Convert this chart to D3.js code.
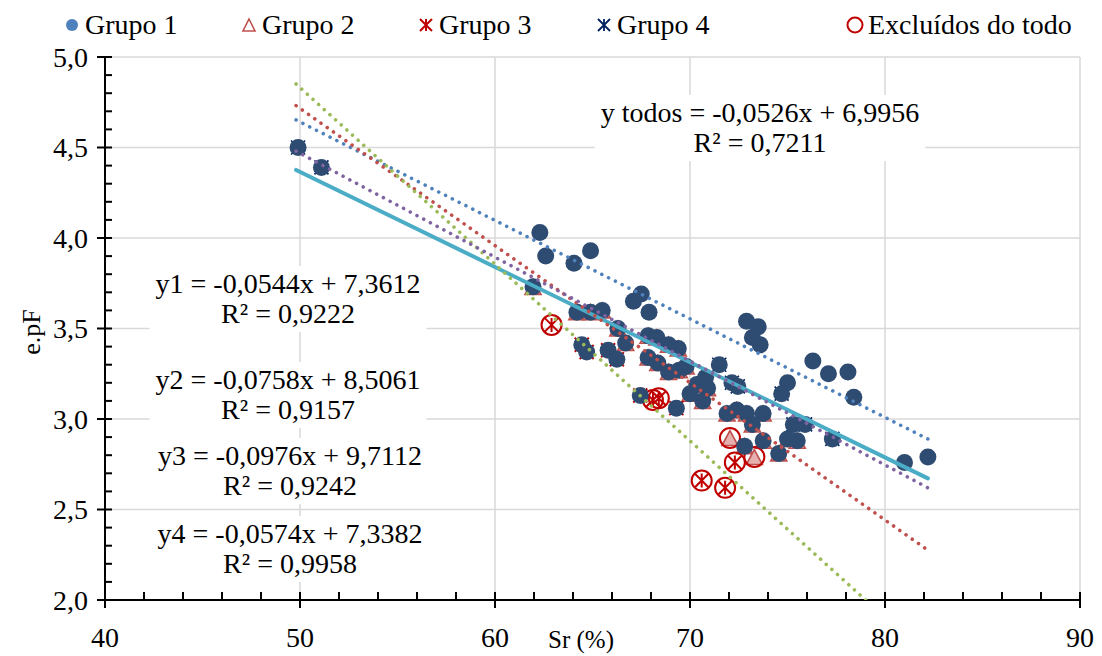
<!DOCTYPE html>
<html>
<head>
<meta charset="utf-8">
<script src="https://cdn.jsdelivr.net/npm/d3@7"></script>
<style>
  body { margin: 0; background: #fff; }
  text { font-family: "Liberation Serif", "Times New Roman", serif; fill: #000; }
</style>
</head>
<body>
<div class="chart-container"></div>
<script>
// Points: [Sr (%), e.pF]
const grupo1 = [[62.3,4.03],[62.6,3.90],[64.05,3.86],[64.9,3.93],[67.1,3.65],[67.5,3.69],[67.9,3.59],
  [72.9,3.54],[73.5,3.51],[73.2,3.45],[73.6,3.41],[75.0,3.20],[76.3,3.32],[77.1,3.25],[78.1,3.26],
  [78.4,3.12],[81.0,2.76],[82.2,2.79]];
const grupo2 = [[61.95,3.73],[64.2,3.59],[64.9,3.59],[65.5,3.60],[66.3,3.50],[66.7,3.42],[67.85,3.46],
  [68.3,3.45],[68.9,3.41],[69.4,3.39],[67.85,3.34],[68.35,3.31],[68.9,3.26],[69.45,3.27],[69.8,3.29],
  [70.35,3.19],[70.8,3.23],[70.9,3.17],[70.0,3.14],[70.65,3.10],[71.9,3.03],[72.4,3.05],[72.9,3.03],
  [73.75,3.03],[73.2,2.97],[72.8,2.85],[73.75,2.88],[75.0,2.89],[75.5,2.88],[74.55,2.81]];
const grupo3 = [[64.45,3.41],[64.7,3.37],[65.8,3.38],[66.25,3.33],[67.45,3.13],[69.3,3.06]];
const grupo4 = [[49.9,4.50],[51.1,4.39],[71.5,3.30],[72.15,3.20],[72.45,3.18],[74.7,3.14],
  [75.3,2.97],[75.9,2.97],[77.3,2.89]];
// excluded from "todos" fit
const excluidos2 = [[72.05,2.895],[73.3,2.79]];
const excluidos3 = [[62.9,3.52],[68.1,3.105],[68.4,3.115],[70.6,2.66],[71.8,2.62],[72.3,2.76]];

// trend lines
const trendNames = ['y todos', 'y1', 'y2', 'y3', 'y4'];
const trendSlopes = [-0.0526, -0.0544, -0.0758, -0.0976, -0.0574];
const trendIntercepts = [6.9956, 7.3612, 8.5061, 9.7112, 7.3382];
const trendR2 = [0.7211, 0.9222, 0.9157, 0.9242, 0.9958];
const trendRange = [49.8, 82.2];

const xTicks = [40, 50, 60, 70, 80, 90];
const yTicks = [2.0, 2.5, 3.0, 3.5, 4.0, 4.5, 5.0];
const legendLabels = ['Grupo 1', 'Grupo 2', 'Grupo 3', 'Grupo 4', 'Excluídos do todo'];

const W = 1102, H = 656;
const margin = { top: 57, right: 22, bottom: 56, left: 105 };
const width = W - margin.left - margin.right;
const height = H - margin.top - margin.bottom;

const svg = d3.select('.chart-container').append('svg')
  .attr('width', W).attr('height', H);
svg.append('rect').attr('width', W).attr('height', H).attr('fill', '#fff');

const g = svg.append('g').attr('transform', `translate(${margin.left},${margin.top})`);

const x = d3.scaleLinear().domain([40, 90]).range([0, width]);
const y = d3.scaleLinear().domain([2, 5]).range([height, 0]);
const comma = (v, n) => v.toFixed(n).replace('.', ',');

// grid lines
g.selectAll('.hgrid').data(yTicks.slice(1)).enter().append('line')
  .attr('x1', 0).attr('x2', width)
  .attr('y1', d => y(d)).attr('y2', d => y(d))
  .attr('stroke', '#d9d9d9').attr('stroke-width', 1.5);
g.selectAll('.vgrid').data(xTicks.slice(1)).enter().append('line')
  .attr('x1', d => x(d)).attr('x2', d => x(d))
  .attr('y1', 0).attr('y2', height)
  .attr('stroke', '#d9d9d9').attr('stroke-width', 1.5);

// axes
const axis = g.append('g').attr('stroke', '#000').attr('stroke-width', 2);
axis.append('line').attr('x1', 0).attr('x2', width).attr('y1', height).attr('y2', height);
axis.append('line').attr('x1', 0).attr('x2', 0).attr('y1', 0).attr('y2', height);
// x minor ticks every 2, major crossing
d3.range(40, 90.1, 2).forEach(v => {
  const major = v % 10 === 0;
  axis.append('line').attr('x1', x(v)).attr('x2', x(v))
    .attr('y1', height - 8).attr('y2', major ? height + 8 : height);
});
// y minor ticks every 0.1
d3.range(0, 31).forEach(i => {
  const v = 2 + i * 0.1;
  const major = i % 5 === 0;
  axis.append('line').attr('y1', y(v)).attr('y2', y(v))
    .attr('x1', major ? -8 : 0).attr('x2', 7);
});

g.selectAll('.xlab').data(xTicks).enter().append('text')
  .attr('x', d => x(d)).attr('y', height + 47)
  .attr('text-anchor', 'middle').style('font-size', '28px')
  .text(d => d);
g.selectAll('.ylab').data(yTicks).enter().append('text')
  .attr('x', -17).attr('y', d => y(d) + 9.5)
  .attr('text-anchor', 'end').style('font-size', '28px')
  .text(d => comma(d, 1));

svg.append('text').attr('x', 581).attr('y', 648)
  .attr('text-anchor', 'middle').style('font-size', '25px').text('Sr (%)');
svg.append('text').attr('transform', 'translate(40,332) rotate(-90)')
  .attr('text-anchor', 'middle').style('font-size', '26px').text('e.pF');

// marker shapes
const aster = h => `M${-h},${-h}L${h},${h}M${h},${-h}L${-h},${h}M0,${-h}L0,${h}`;
const tri = (w, h) => `M0,${-h / 2}L${w / 2},${h / 2}L${-w / 2},${h / 2}Z`;

const pts = g.append('g');
pts.selectAll('.g1').data(grupo1).enter().append('circle')
  .attr('cx', d => x(d[0])).attr('cy', d => y(d[1])).attr('r', 6).attr('fill', '#4f81bd');
pts.selectAll('.g2').data(grupo2.concat(excluidos2)).enter().append('path')
  .attr('d', tri(16, 15))
  .attr('transform', d => `translate(${x(d[0])},${y(d[1])})`)
  .attr('fill', '#e6b0b0').attr('stroke', '#c0504d').attr('stroke-width', 1.6);
pts.selectAll('.g3').data(grupo3.concat(excluidos3)).enter().append('path')
  .attr('d', aster(7))
  .attr('transform', d => `translate(${x(d[0])},${y(d[1])})`)
  .attr('fill', 'none').attr('stroke', '#c00000').attr('stroke-width', 2);
pts.selectAll('.g4').data(grupo4).enter().append('path')
  .attr('d', aster(7))
  .attr('transform', d => `translate(${x(d[0])},${y(d[1])})`)
  .attr('fill', 'none').attr('stroke', '#002060').attr('stroke-width', 1.6);
// excluded ring
pts.selectAll('.ex').data(excluidos2.concat(excluidos3)).enter().append('circle')
  .attr('cx', d => x(d[0])).attr('cy', d => y(d[1])).attr('r', 10)
  .attr('fill', 'none').attr('stroke', '#c00000').attr('stroke-width', 2);
// all included points ("todos")
const todos = grupo1.concat(grupo2, grupo3, grupo4);
pts.selectAll('.todos').data(todos).enter().append('circle')
  .attr('cx', d => x(d[0])).attr('cy', d => y(d[1])).attr('r', 8.5)
  .attr('fill', '#2e4b72');

// trend lines (clipped to plot area)
svg.append('clipPath').attr('id', 'plotclip').append('rect')
  .attr('width', width).attr('height', height);
const trendColors = ['#4bacc6', '#4f81bd', '#c0504d', '#9bbb59', '#8064a2'];
const lines = g.append('g').attr('clip-path', 'url(#plotclip)');
trendNames.forEach((n, i) => {
  const f = v => trendSlopes[i] * v + trendIntercepts[i];
  const solid = i === 0;
  lines.append('line')
    .attr('x1', x(trendRange[0])).attr('y1', y(f(trendRange[0])))
    .attr('x2', x(trendRange[1])).attr('y2', y(f(trendRange[1])))
    .attr('stroke', trendColors[i])
    .attr('stroke-width', solid ? 4 : 3.6)
    .attr('stroke-linecap', 'round')
    .attr('stroke-dasharray', solid ? null : '0.01 7.6');
});

// equation labels
const labelPos = [[760, 122], [288, 293], [288, 389], [290, 465], [290, 543]];
trendNames.forEach((n, i) => {
  const [cx, by] = labelPos[i];
  const l1 = `${n} = ${comma(trendSlopes[i], 4)}x + ${comma(trendIntercepts[i], 4)}`;
  const l2 = `R² = ${comma(trendR2[i], 4)}`;
  const lab = svg.append('g');
  const t1 = lab.append('text').attr('x', cx).attr('y', by)
    .attr('text-anchor', 'middle').style('font-size', '28px').text(l1);
  const t2 = lab.append('text').attr('x', cx).attr('y', by + 30)
    .attr('text-anchor', 'middle').style('font-size', '28px').text(l2);
  const bb = t1.node().getBBox();
  lab.insert('rect', 'text')
    .attr('x', bb.x - 6).attr('y', bb.y - 2)
    .attr('width', bb.width + 12).attr('height', 66)
    .attr('fill', '#fff');
});

// legend
const legX = [72, 249, 426, 604, 855];
const leg = svg.append('g');
legendLabels.forEach((lbl, i) => {
  const m = leg.append('g').attr('transform', `translate(${legX[i]},25)`);
  if (i === 0) m.append('circle').attr('r', 6).attr('fill', '#4f81bd');
  if (i === 1) m.append('path').attr('d', tri(12, 12)).attr('fill', '#fff')
    .attr('stroke', '#c0504d').attr('stroke-width', 1.6);
  if (i === 2) m.append('path').attr('d', aster(6)).attr('fill', 'none')
    .attr('stroke', '#c00000').attr('stroke-width', 2);
  if (i === 3) m.append('path').attr('d', aster(6)).attr('fill', 'none')
    .attr('stroke', '#002060').attr('stroke-width', 1.8);
  if (i === 4) m.append('circle').attr('r', 7.5).attr('fill', 'none')
    .attr('stroke', '#c00000').attr('stroke-width', 2);
  leg.append('text').attr('x', legX[i] + (i === 4 ? 13 : 13)).attr('y', 34)
    .style('font-size', '28px').text(lbl);
});
</script>
</body>
</html>
